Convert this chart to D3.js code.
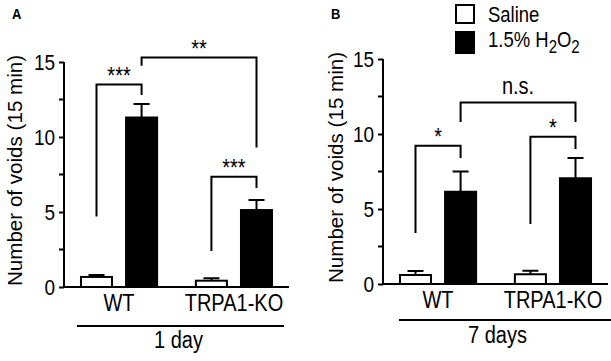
<!DOCTYPE html>
<html>
<head>
<meta charset="utf-8">
<script src="https://cdn.jsdelivr.net/npm/d3@7/dist/d3.min.js"></script>
<style>
  html, body { margin: 0; padding: 0; background: #fff; }
  svg { display: block; font-family: "Liberation Sans", Arial, Helvetica, sans-serif; }
</style>
</head>
<body>
<svg id="chart" width="611" height="361"></svg>
<script>
// ---------------- data ----------------
const genotypes = ["WT", "TRPA1-KO"];
const treatments = ["Saline", "H2O2"];
const yTicks = [0, 5, 10, 15];
const yMinorTicks = [2.5, 7.5, 12.5];

// order: [genotype][treatment]
const day1Means = [[0.67, 11.3], [0.42, 5.13]];
const day1Sem   = [[0.13, 0.9],  [0.16, 0.67]];
const day7Means = [[0.6, 6.15],  [0.65, 7.05]];
const day7Sem   = [[0.27, 1.35], [0.24, 1.35]];

// brackets: from/to = [genotype index, treatment index]; top/left/right in data units
const day1Brackets = [
  { from: [0, 0], to: [0, 1], top: 13.5, left: 4.7,  right: 12.8, label: "***" },
  { from: [0, 1], to: [1, 1], top: 15.3, left: 14.75, right: 9.3, label: "**" },
  { from: [1, 0], to: [1, 1], top: 7.35, left: 2.4,  right: 6.6,  label: "***" }
];
const day7Brackets = [
  { from: [0, 0], to: [0, 1], top: 9.22, left: 3.4,  right: 8.4,  label: "*" },
  { from: [0, 1], to: [1, 1], top: 12.1, left: 10.8, right: 10.8, label: "n.s." },
  { from: [1, 0], to: [1, 1], top: 9.82, left: 4.0,  right: 9.0,  label: "*" }
];
const yTitle = "Number of voids (15 min)";
const panels = [
  { letter: "A", period: "1 day",  means: day1Means, sem: day1Sem, brackets: day1Brackets,
    xr: [64, 289], yr: [287, 62], titleX: 22, catY: 311, lineY: 326, periodY: 348, lineExt: [-3, 11] },
  { letter: "B", period: "7 days", means: day7Means, sem: day7Sem, brackets: day7Brackets,
    xr: [383, 608], yr: [284, 59], titleX: 343, catY: 308, lineY: 320, periodY: 343, lineExt: [0, 40] }
];

// ---------------- drawing ----------------
const svg = d3.select("#chart");
const FS = 20;
const K = 1.15; // vertical stretch of lettering in the reference

function addText(parent, x, y, str, size, k = K) {
  return parent.append("text")
    .attr("transform", `translate(${x},${y}) scale(1,${k})`)
    .attr("font-size", size).attr("fill", "#000").text(str);
}

panels.forEach((p, pi) => {
  const g = svg.append("g");
  const x0 = d3.scaleBand().domain(genotypes).range(p.xr).paddingInner(0.32).paddingOuter(0.139);
  const x1 = d3.scaleBand().domain(treatments).range([0, x0.bandwidth()]).paddingInner(0.267).paddingOuter(0);
  const y = d3.scaleLinear().domain([0, 15]).range(p.yr);
  const cx = (gi, ti) => x0(genotypes[gi]) + x1(treatments[ti]) + x1.bandwidth() / 2;

  // y axis (major)
  const yAxis = d3.axisLeft(y).tickValues(yTicks).tickSize(5).tickPadding(4).tickSizeOuter(0);
  const ya = g.append("g").attr("transform", `translate(${p.xr[0]},0)`).call(yAxis);
  ya.select(".domain").attr("stroke-width", 2).attr("d", `M0,${y(0)}V${y(15)}`);
  ya.selectAll(".tick line").attr("stroke-width", 2);
  ya.selectAll(".tick text").attr("font-size", 19)
    .attr("font-family", "Liberation Sans, Arial, sans-serif").attr("fill", "#000")
    .attr("transform", "scale(1,1.2)");
  // minor ticks
  g.append("g").attr("transform", `translate(${p.xr[0]},0)`)
    .selectAll("line").data(yMinorTicks).join("line")
    .attr("x1", -5).attr("x2", 0).attr("y1", d => y(d)).attr("y2", d => y(d))
    .attr("stroke", "#000").attr("stroke-width", 2);

  // x baseline
  g.append("line").attr("x1", p.xr[0] - 1).attr("x2", p.xr[1]).attr("y1", y(0)).attr("y2", y(0))
    .attr("stroke", "#000").attr("stroke-width", 2);

  // bars
  const barData = [];
  genotypes.forEach((gn, gi) => treatments.forEach((tr, ti) => {
    barData.push({ gi, ti, m: p.means[gi][ti], s: p.sem[gi][ti] });
  }));
  g.selectAll(".err").data(barData).join("path")
    .attr("d", d => {
      const c = cx(d.gi, d.ti), yt = y(d.m + d.s);
      return `M${c},${y(d.m)}V${yt}M${c - 8},${yt}H${c + 8}`;
    })
    .attr("stroke", "#000").attr("stroke-width", 2).attr("fill", "none");
  g.selectAll(".bar").data(barData).join("rect")
    .attr("x", d => x0(genotypes[d.gi]) + x1(treatments[d.ti]) + 1)
    .attr("width", x1.bandwidth() - 2)
    .attr("y", d => y(d.m))
    .attr("height", d => y(0) - y(d.m))
    .attr("fill", d => d.ti === 0 ? "#fff" : "#000")
    .attr("stroke", "#000").attr("stroke-width", 2);

  // brackets
  p.brackets.forEach(b => {
    const xa = cx(b.from[0], b.from[1]), xb = cx(b.to[0], b.to[1]);
    g.append("path")
      .attr("d", `M${xa},${y(b.left)}V${y(b.top)}H${xb}V${y(b.right)}`)
      .attr("stroke", "#000").attr("stroke-width", 2).attr("fill", "none");
    addText(g, (xa + xb) / 2, y(b.top) - (b.label.startsWith("*") ? 1 : 9), b.label, FS)
      .attr("text-anchor", "middle");
  });

  // category labels
  genotypes.forEach(d => {
    addText(g, x0(d) + x0.bandwidth() / 2, p.catY, d, FS).attr("text-anchor", "middle");
  });

  // period line + label
  const lx0 = x0(genotypes[0]) + p.lineExt[0];
  const lx1 = x0(genotypes[1]) + x0.bandwidth() + p.lineExt[1];
  g.append("line").attr("x1", lx0).attr("x2", lx1).attr("y1", p.lineY).attr("y2", p.lineY)
    .attr("stroke", "#000").attr("stroke-width", 2);
  addText(g, (x0(genotypes[0]) + x0(genotypes[1]) + x0.bandwidth()) / 2 + 2, p.periodY, p.period, FS)
    .attr("text-anchor", "middle");

  // y title
  g.append("text")
    .attr("transform", `translate(${p.titleX},${(y(0) + y(15)) / 2 - 4}) rotate(-90) scale(1.03,1)`)
    .attr("text-anchor", "middle").attr("font-size", FS).attr("fill", "#000").text(yTitle);

  // panel letter
  addText(g, pi === 0 ? 12 : 331, 19, p.letter, 13, 1.1).attr("font-weight", "bold");
});

// legend
const legend = svg.append("g");
const legendItems = [
  { key: "Saline", fill: "#fff", y: 5, h: 18 },
  { key: "H2O2", fill: "#000", y: 32, h: 21 }
];
legend.selectAll("rect").data(legendItems).join("rect")
  .attr("x", 456).attr("y", d => d.y).attr("width", 18).attr("height", d => d.h)
  .attr("fill", d => d.fill).attr("stroke", "#000").attr("stroke-width", 2);
addText(legend, 488, 22, "Saline", 18.5, 1.2);
const t2 = addText(legend, 488, 47, null, 18.5, 1.2);
t2.append("tspan").text("1.5% H");
t2.append("tspan").attr("dy", 5).attr("font-size", 15).text("2");
t2.append("tspan").attr("dy", -5).text("O");
t2.append("tspan").attr("dy", 5).attr("font-size", 15).text("2");
</script>
</body>
</html>
